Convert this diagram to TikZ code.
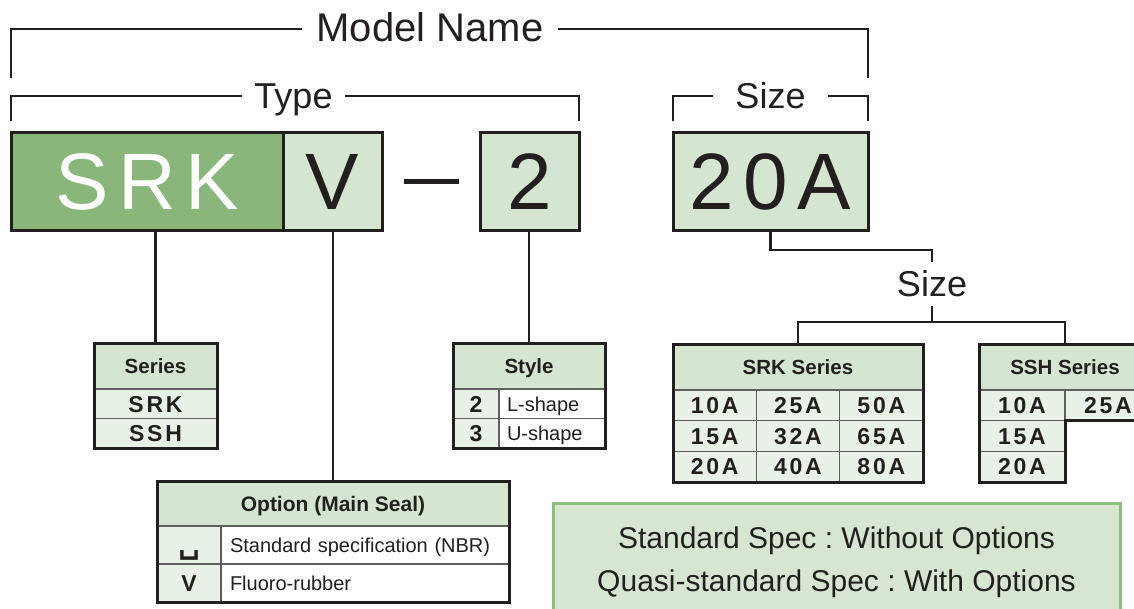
\documentclass[tikz,border=0pt]{standalone}
\usepackage{fontspec}
\setmainfont{Liberation Sans}
\newfontfamily\spaced[LetterSpace=12]{Liberation Sans}
\newfontfamily\symfont{DejaVu Sans}
\usetikzlibrary{positioning}
\frenchspacing

\definecolor{ink}{RGB}{35,31,32}
\definecolor{seriesgreen}{RGB}{137,183,122}
\definecolor{palegreen}{RGB}{213,230,208}
\definecolor{cellgreen}{RGB}{232,241,229}
\definecolor{notefill}{RGB}{214,230,209}
\definecolor{noteline}{RGB}{140,190,125}
\definecolor{gridgray}{RGB}{95,95,95}

\begin{document}
\begin{tikzpicture}[x=1pt,y=-1pt,color=ink,line width=2.5pt,
    partbox/.style={draw=ink,line width=3pt,fill=palegreen,inner sep=0pt,outer sep=0pt,minimum height=98pt,text height=57pt,text depth=0pt,font=\spaced\fontsize{80}{80}\selectfont},
    bracelabel/.style={inner xsep=12pt,inner ysep=0pt,text height=25pt,text depth=0pt,font=\fontsize{36}{36}\selectfont},
    hdcell/.style={draw=ink,line width=2pt,fill=palegreen,inner sep=0pt,outer sep=0pt,text height=15pt,text depth=0pt,font=\bfseries\fontsize{20.5}{20.5}\selectfont},
    valcell/.style={draw=gridgray,line width=1.2pt,fill=cellgreen,inner sep=0pt,outer sep=0pt,text height=16.5pt,text depth=0pt,font=\spaced\bfseries\fontsize{23}{23}\selectfont},
    desccell/.style={draw=gridgray,line width=1.2pt,fill=white,inner ysep=0pt,outer sep=0pt,align=left,text height=14.5pt,text depth=0pt,font=\fontsize{20}{20}\selectfont},
    tableframe/.style={draw=ink,line width=3pt}]
    \clip (0,0) rectangle (1134,608);

    % model name code
    \node[partbox,fill=seriesgreen,text=white,minimum width=272pt] (srk) at (147,181) {SRK};
    \node[partbox,minimum width=99pt] (v) at (332.5,181) {V};
    \node[partbox,minimum width=99pt] (two) at (529.5,181) {2};
    \node[partbox,minimum width=195pt] (size) at (770.5,181) {20A};
    \draw[line width=5pt] ([xshift=22pt]v.east) -- ([xshift=-21pt]two.west);

    % brackets
    \node[bracelabel,inner xsep=13pt,font=\fontsize{40}{40}\selectfont] (model) at (430,29) {Model Name};
    \draw ([yshift=54pt]srk.north west) |- (model.west);
    \draw (model.east) -| ([yshift=54pt]size.north east);
    \node[bracelabel,inner xsep=11pt] (type) at (293.5,96) {Type};
    \draw ([yshift=11pt]srk.north west) |- (type.west);
    \draw (type.east) -| ([yshift=11pt]two.north east);
    \node[bracelabel,inner xsep=21pt] (sizeb) at (770.5,96) {Size};
    \draw ([yshift=11pt]size.north west) |- (sizeb.west);
    \draw (sizeb.east) -| ([yshift=11pt]size.north east);

    % series
    \node[hdcell,minimum width=123pt,minimum height=46pt] (serieshd) at (155.5,366) {Series};
    \node[valcell,minimum width=123pt,minimum height=29.5pt,below=0pt of serieshd] (series1) {SRK};
    \node[valcell,minimum width=123pt,minimum height=29.5pt,below=0pt of series1] (series2) {SSH};
    \draw[tableframe] (serieshd.north west) rectangle (series2.south east);
    \draw (serieshd.north) -- (srk.south -| serieshd.north);

    % style
    \node[hdcell,minimum width=152pt,minimum height=46pt] (stylehd) at (529,366) {Style};
    \node[valcell,minimum width=46pt,minimum height=29.5pt,below right=0pt of stylehd.south west] (style1) {2};
    \node[desccell,text width=90pt,inner xsep=8pt,minimum height=29.5pt,right=0pt of style1] (style1d) {L-shape};
    \node[valcell,minimum width=46pt,minimum height=29.5pt,below=0pt of style1] (style2) {3};
    \node[desccell,text width=90pt,inner xsep=8pt,minimum height=29.5pt,right=0pt of style2] (style2d) {U-shape};
    \draw[tableframe] (stylehd.north west) rectangle (style2d.south east);
    \draw (stylehd.north) -- (two.south -| stylehd.north);

    % option
    \node[hdcell,minimum width=352pt,minimum height=45pt,font=\bfseries\fontsize{21}{21}\selectfont] (opthd) at (333,503.5) {Option (Main Seal)};
    \node[valcell,minimum width=64pt,minimum height=38pt,below right=0pt of opthd.south west] (opt1) {\symfont\fontsize{30}{30}\selectfont ␣};
    \node[desccell,text width=270pt,inner xsep=9pt,minimum height=38pt,right=0pt of opt1] (opt1d) {Standard specification (NBR)};
    \node[valcell,minimum width=64pt,minimum height=38pt,below=0pt of opt1] (opt2) {V};
    \node[desccell,text width=270pt,inner xsep=9pt,minimum height=38pt,right=0pt of opt2] (opt2d) {Fluoro-rubber};
    \draw[tableframe] (opthd.north west) rectangle (opt2d.south east);
    \draw (opthd.north) -- (v.south -| opthd.north);

    % size tables
    \node[bracelabel,inner xsep=0pt,inner ysep=8pt] (sizelbl) at (932,284) {Size};
    \node[hdcell,minimum width=250pt,minimum height=46pt] (srkhd) at (798,367) {SRK Series};
    \foreach \r/\a/\b/\c in {0/10A/25A/50A,1/15A/32A/65A,2/20A/40A/80A}{
        \node[valcell,minimum width=83.33pt,minimum height=30.67pt] (srk-\r-a) at (714.67,{405.33+30.67*\r}) {\a};
        \node[valcell,minimum width=83.33pt,minimum height=30.67pt] (srk-\r-b) at (798,{405.33+30.67*\r}) {\b};
        \node[valcell,minimum width=83.33pt,minimum height=30.67pt] (srk-\r-c) at (881.33,{405.33+30.67*\r}) {\c};
    }
    \draw[tableframe] (srkhd.north west) rectangle (srk-2-c.south east);

    \node[hdcell,minimum width=172pt,minimum height=46pt] (sshhd) at (1065,367) {SSH Series};
    \node[valcell,minimum width=86pt,minimum height=30.67pt,below right=0pt of sshhd.south west] (ssh1) {10A};
    \node[valcell,minimum width=86pt,minimum height=30.67pt,right=0pt of ssh1] (ssh1b) {25A};
    \node[valcell,minimum width=86pt,minimum height=30.67pt,below=0pt of ssh1] (ssh2) {15A};
    \node[valcell,minimum width=86pt,minimum height=30.67pt,below=0pt of ssh2] (ssh3) {20A};
    \draw[tableframe] (sshhd.north west) -- (sshhd.north east) -- (ssh1b.south east) -- (ssh1b.south west) -- (ssh3.south east) -- (ssh3.south west) -- cycle;

    \draw (size.south) -- ++(0,20) -| (sizelbl.north);
    \draw (sizelbl.south) -- ([yshift=-16pt]sizelbl.south);
    \draw (srkhd.north) |- ([yshift=-16pt]sizelbl.south) -| (sshhd.north);

    % note
    \node[draw=noteline,line width=3pt,fill=notefill,minimum width=567pt,minimum height=118pt,align=center,font=\fontsize{30}{43}\selectfont] (note) at (836.5,562) {Standard Spec : Without Options\\Quasi-standard Spec : With Options};
\end{tikzpicture}
\end{document}
